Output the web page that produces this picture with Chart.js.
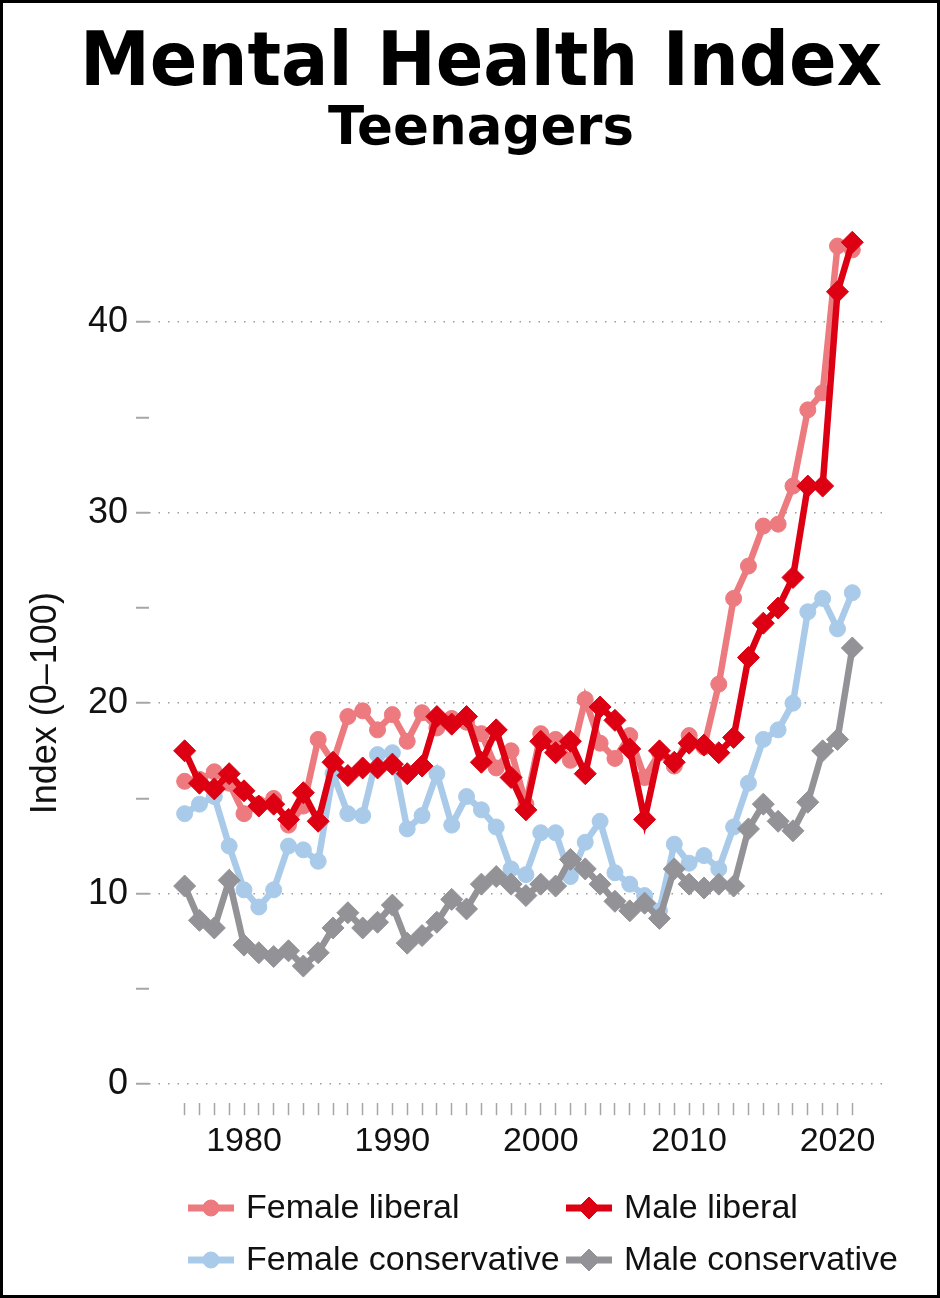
<!DOCTYPE html>
<html>
<head>
<meta charset="utf-8">
<title>Mental Health Index</title>
<script src="https://cdn.jsdelivr.net/npm/chart.js@4.4.1/dist/chart.umd.min.js"></script>
<style>
  html, body { margin: 0; padding: 0; background: #fff; }
  #frame { position: relative; width: 940px; height: 1298px; box-sizing: border-box; border: 3px solid #000; background: #fff; overflow: hidden; }
  #wrap { position: absolute; left: 23px; top: 0; width: 911px; height: 1292px; }
</style>
</head>
<body>
<div id="frame"><div id="wrap"><canvas id="myChart"></canvas></div></div>
<script>
const years = [1976, 1977, 1978, 1979, 1980, 1981, 1982, 1983, 1984, 1985,
  1986, 1987, 1988, 1989, 1990, 1991, 1992, 1993, 1994, 1995,
  1996, 1997, 1998, 1999, 2000, 2001, 2002, 2003, 2004, 2005,
  2006, 2007, 2008, 2009, 2010, 2011, 2012, 2013, 2014, 2015,
  2016, 2017, 2018, 2019, 2020, 2021];

const femaleLiberal = [15.9, 16.0, 16.4, 15.8, 14.2, 14.7, 15.0, 13.6, 14.6, 18.1,
  16.9, 19.3, 19.6, 18.6, 19.4, 18.0, 19.5, 18.7, 19.2, 19.0,
  18.4, 16.6, 17.5, 14.7, 18.4, 18.1, 17.0, 20.2, 17.9, 17.1,
  18.3, 16.1, 17.4, 16.7, 18.3, 17.7, 21.0, 25.5, 27.2, 29.3,
  29.4, 31.4, 35.4, 36.3, 44.0, 43.8];

const maleLiberal = [17.5, 15.8, 15.5, 16.3, 15.4, 14.6, 14.7, 13.9, 15.3, 13.8,
  16.9, 16.2, 16.6, 16.6, 16.8, 16.3, 16.7, 19.3, 18.9, 19.3,
  16.9, 18.6, 16.1, 14.4, 18.0, 17.4, 18.0, 16.3, 19.8, 19.1,
  17.6, 13.9, 17.5, 16.9, 17.9, 17.8, 17.4, 18.2, 22.4, 24.2,
  25.0, 26.6, 31.4, 31.4, 41.6, 44.2];

const femaleConservative = [14.2, 14.7, 15.1, 12.5, 10.2, 9.3, 10.2, 12.5, 12.3, 11.7,
  16.3, 14.2, 14.1, 17.3, 17.4, 13.4, 14.1, 16.3, 13.6, 15.1,
  14.4, 13.5, 11.3, 11.0, 13.2, 13.2, 10.9, 12.7, 13.8, 11.1,
  10.5, 9.9, 9.1, 12.6, 11.6, 12.0, 11.3, 13.5, 15.8, 18.1,
  18.6, 20.0, 24.8, 25.5, 23.9, 25.8];

const maleConservative = [10.4, 8.6, 8.2, 10.7, 7.3, 6.9, 6.7, 7.0, 6.2, 6.9,
  8.2, 9.0, 8.2, 8.5, 9.4, 7.4, 7.8, 8.5, 9.7, 9.2,
  10.5, 10.9, 10.5, 9.9, 10.5, 10.4, 11.8, 11.3, 10.5, 9.6,
  9.1, 9.5, 8.7, 11.3, 10.5, 10.3, 10.5, 10.4, 13.4, 14.7,
  13.8, 13.3, 14.8, 17.5, 18.1, 22.9];

const seriesNames = ['Female liberal', 'Male liberal', 'Female conservative', 'Male conservative'];
const xTickLabels = [1980, 1990, 2000, 2010, 2020];
const yTickLabels = [0, 10, 20, 30, 40];
const yMinorTicks = [5, 15, 25, 35];

const FONT = '"Liberation Sans", Arial, Helvetica, sans-serif';

function toPoints(vals) {
  return years.map((yr, i) => ({ x: yr, y: vals[i] }));
}

function series(label, vals, color, style, radius, order) {
  return {
    label: label,
    data: toPoints(vals),
    borderColor: color,
    backgroundColor: color,
    pointBackgroundColor: color,
    pointBorderColor: color,
    pointBorderWidth: 1,
    pointStyle: style,
    pointRadius: radius,
    borderWidth: 6.5,
    tension: 0,
    order: order
  };
}

const datasets = [
  series(seriesNames[0], femaleLiberal, '#ec7a7f', 'circle', 8, 1),
  series(seriesNames[1], maleLiberal, '#dc0012', 'rectRot', 11, 0),
  series(seriesNames[2], femaleConservative, '#a9cbe9', 'circle', 8, 3),
  series(seriesNames[3], maleConservative, '#929297', 'rectRot', 11, 2)
];

// y axis title and the two-column legend under the chart
const extras = {
  id: 'extras',
  afterDraw(chart) {
    const ctx = chart.ctx;
    const ys = chart.scales.y;
    ctx.save();
    const midY = (ys.getPixelForValue(yTickLabels[0]) + ys.getPixelForValue(yTickLabels[yTickLabels.length - 1])) / 2;
    ctx.translate(20, midY);
    ctx.rotate(-Math.PI / 2);
    ctx.fillStyle = '#111';
    ctx.font = '36px ' + FONT;
    ctx.textAlign = 'center';
    ctx.textBaseline = 'middle';
    ctx.fillText('Index (0\u2013100)', 0, 0);
    ctx.restore();

    const colX = [185, 563];
    const rowY = [1205, 1257];
    chart.data.datasets.forEach((ds, i) => {
      const cx = colX[i % 2];
      const cy = rowY[Math.floor(i / 2)];
      ctx.save();
      ctx.strokeStyle = ds.borderColor;
      ctx.fillStyle = ds.borderColor;
      ctx.lineWidth = 7;
      ctx.beginPath();
      ctx.moveTo(cx - 23, cy);
      ctx.lineTo(cx + 23, cy);
      ctx.stroke();
      ctx.lineWidth = 1;
      Chart.helpers.drawPoint(ctx, { pointStyle: ds.pointStyle, radius: ds.pointRadius, borderWidth: 1, rotation: 0 }, cx, cy);
      ctx.fillStyle = '#111';
      ctx.font = '34px ' + FONT;
      ctx.textAlign = 'left';
      ctx.textBaseline = 'middle';
      ctx.fillText(ds.label, cx + 35, cy + 1);
      ctx.restore();
    });
  }
};

const ctx = document.getElementById('myChart').getContext('2d');
new Chart(ctx, {
  type: 'line',
  data: { datasets: datasets },
  plugins: [extras],
  options: {
    responsive: true,
    maintainAspectRatio: false,
    animation: false,
    layout: { padding: { left: 54, right: 55, top: 0, bottom: 127 } },
    plugins: {
      legend: { display: false },
      tooltip: { enabled: false },
      title: {
        display: true,
        text: 'Mental Health Index',
        color: '#000',
        font: { family: '"DejaVu Sans", sans-serif', size: 75, weight: 'bold', lineHeight: 1.0 },
        padding: { top: 25, bottom: 0 }
      },
      subtitle: {
        display: true,
        text: 'Teenagers',
        color: '#000',
        font: { family: '"DejaVu Sans", sans-serif', size: 53, weight: 'bold', lineHeight: 1.0 },
        padding: { top: 1, bottom: 70 }
      }
    },
    scales: {
      x: {
        type: 'linear',
        min: 1973.6,
        max: 2023,
        afterBuildTicks: axis => { axis.ticks = years.map(v => ({ value: v })); },
        grid: {
          drawOnChartArea: false,
          color: 'rgba(0,0,0,0)',
          tickColor: '#a6a6a6',
          tickLength: 12,
          tickWidth: 1.5
        },
        border: { display: false },
        ticks: {
          autoSkip: false,
          maxRotation: 0,
          padding: 6,
          color: '#111',
          font: { family: FONT, size: 34 },
          callback: v => xTickLabels.includes(v) ? String(v) : ''
        }
      },
      y: {
        type: 'linear',
        min: -1,
        max: 45,
        afterBuildTicks: axis => {
          axis.ticks = yTickLabels.concat(yMinorTicks).sort((a, b) => a - b).map(v => ({ value: v }));
        },
        grid: {
          color: c => (c.tick && yTickLabels.includes(c.tick.value)) ? '#9c9c9c' : 'rgba(0,0,0,0)',
          lineWidth: 1.5,
          tickColor: '#a6a6a6',
          tickLength: 13,
          tickWidth: 2,
          tickBorderDash: []
        },
        border: { display: false, dash: [1.5, 8] },
        ticks: {
          padding: 8,
          color: '#111',
          font: { family: FONT, size: 36 },
          callback: v => yTickLabels.includes(v) ? String(v) : ''
        }
      }
    }
  }
});
</script>
</body>
</html>
